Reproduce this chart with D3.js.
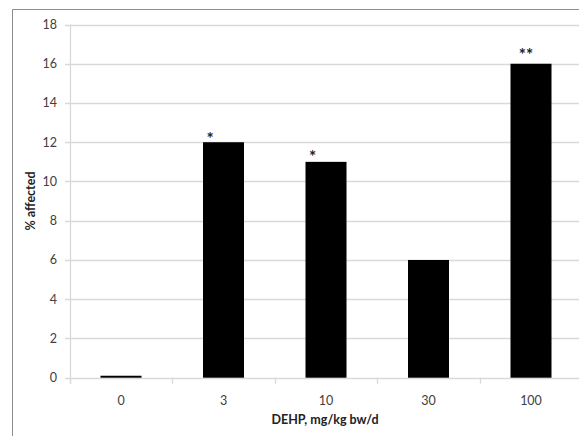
<!DOCTYPE html>
<html><head><meta charset="utf-8">
<script src="https://cdn.jsdelivr.net/npm/d3@7"></script>
<style>body{margin:0;background:#fff}svg{display:block}</style>
</head><body>
<svg id="c" width="579" height="436"></svg>
<script>
const categories = ["0", "3", "10", "30", "100"];
const values = [0.1, 12, 11, 6, 16];
const marks = ["", "*", "*", "", "**"];
const yTicks = [0, 2, 4, 6, 8, 10, 12, 14, 16, 18];

const svg = d3.select("#c");
const font = "Lato, 'Open Sans', sans-serif";
// frame border (partial, cropped)
svg.append("line").attr("x1", 12.5).attr("x2", 579).attr("y1", 9.5).attr("y2", 9.5).attr("stroke", "#8c8c8c");
svg.append("line").attr("x1", 12.5).attr("x2", 12.5).attr("y1", 9.5).attr("y2", 436).attr("stroke", "#8c8c8c");

const x0 = 69.75, bw = 102.5;
const x = d3.scaleBand().domain(categories).range([x0, x0 + bw * categories.length]).paddingInner(0.6).paddingOuter(0.3);
const y = d3.scaleLinear().domain([0, 18]).range([377.7, 24.5]);

// gridlines
svg.append("g").selectAll("line").data(yTicks).join("line")
  .attr("x1", 65).attr("x2", 579)
  .attr("y1", d => Math.round(y(d)) + 0.5).attr("y2", d => Math.round(y(d)) + 0.5)
  .attr("stroke", "#d9d9d9").attr("stroke-width", 1.3);
// y axis line
svg.append("line").attr("x1", 70.5).attr("x2", 70.5).attr("y1", y(18)).attr("y2", y(0) + 6)
  .attr("stroke", "#d9d9d9").attr("stroke-width", 1.3);
// x ticks at band boundaries
const bounds = d3.range(categories.length + 1).map(i => x0 + i * bw);
svg.append("g").selectAll("line").data(bounds).join("line")
  .attr("x1", d => Math.round(d) + 0.5).attr("x2", d => Math.round(d) + 0.5)
  .attr("y1", y(0)).attr("y2", y(0) + 6)
  .attr("stroke", "#d9d9d9").attr("stroke-width", 1.3);

// y labels
svg.append("g").selectAll("text").data(yTicks).join("text")
  .attr("x", 57).attr("y", d => y(d)).attr("dy", "0.35em")
  .attr("text-anchor", "end").attr("font-family", font).attr("font-size", 12.5).attr("fill", "#404040")
  .text(d => d);
// x labels
svg.append("g").selectAll("text").data(categories).join("text")
  .attr("x", d => x(d) + x.bandwidth() / 2).attr("y", 405)
  .attr("text-anchor", "middle").attr("font-family", font).attr("font-size", 12.5).attr("fill", "#404040")
  .text(d => d);

// bars
svg.append("g").selectAll("rect").data(categories).join("rect")
  .attr("x", d => x(d)).attr("width", x.bandwidth())
  .attr("y", (d, i) => y(values[i])).attr("height", (d, i) => y(0) - y(values[i]))
  .attr("fill", "#000");

// significance marks
svg.append("g").selectAll("text").data(categories).join("text")
  .attr("x", d => x(d) + (d === "100" ? x.bandwidth() / 2 - 5 : 7))
  .attr("y", (d, i) => y(values[i]) + (d === "100" ? -3 : (d === "10" ? 1 : 3)))
  .attr("text-anchor", "middle").attr("font-family", font).attr("font-size", 17).attr("font-weight", "bold").attr("fill", "#222")
  .text((d, i) => marks[i]);

// axis titles
svg.append("text").attr("x", 325).attr("y", 424).attr("text-anchor", "middle")
  .attr("font-family", font).attr("font-size", 12.5).attr("font-weight", "bold").attr("fill", "#222")
  .text("DEHP, mg/kg bw/d");
svg.append("text").attr("transform", "translate(35,201) rotate(-90)").attr("text-anchor", "middle")
  .attr("font-family", font).attr("font-size", 12.5).attr("font-weight", "bold").attr("fill", "#222")
  .text("% affected");
</script>
</body></html>
